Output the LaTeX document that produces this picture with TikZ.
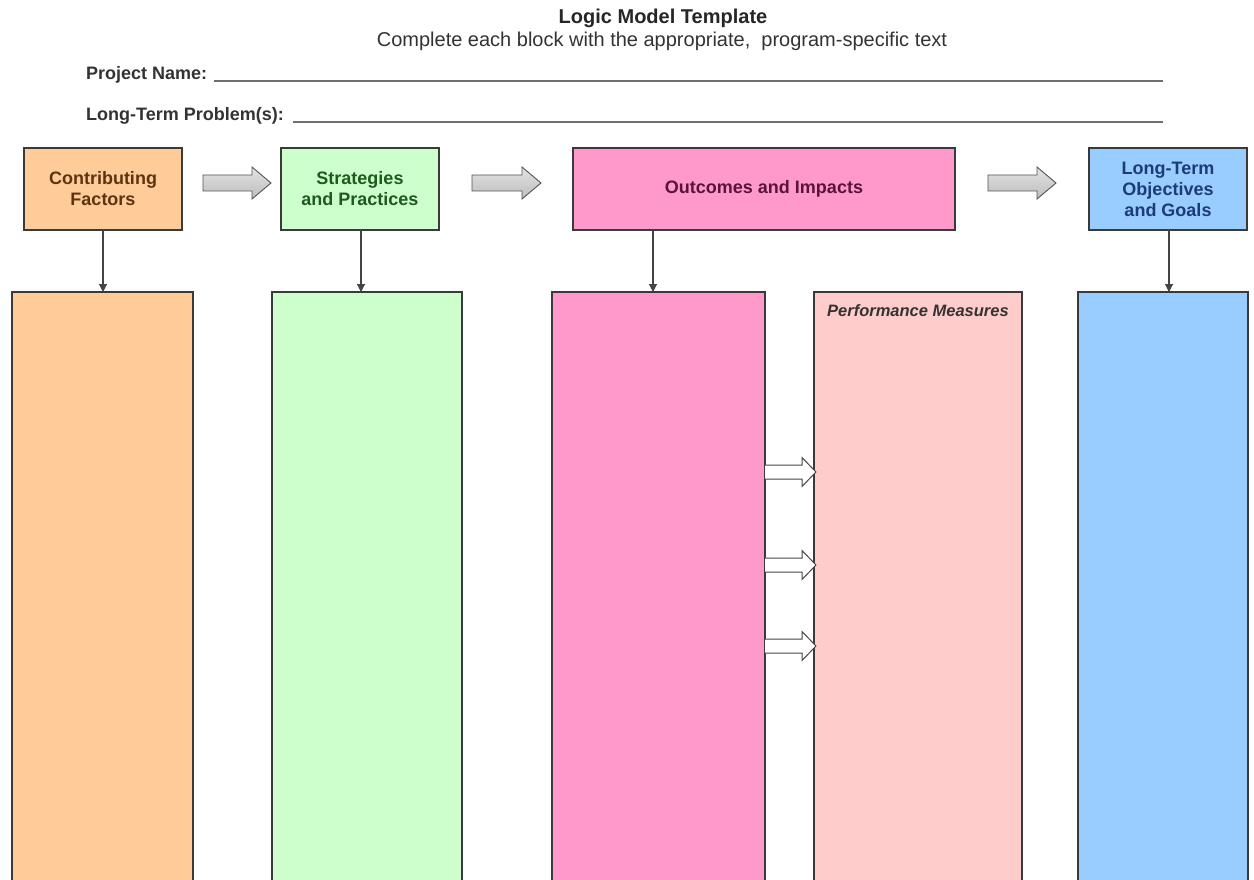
\documentclass[tikz,border=0pt]{standalone}
\usepackage{fontspec}
\setmainfont{Liberation Sans}
\usetikzlibrary{arrows.meta,calc}
\definecolor{cfFill}{HTML}{FFCC99}
\definecolor{spFill}{HTML}{CCFFCC}
\definecolor{oiFill}{HTML}{FF99CC}
\definecolor{pmFill}{HTML}{FFCCCC}
\definecolor{ltFill}{HTML}{99CCFF}
\definecolor{cfText}{HTML}{5C3410}
\definecolor{spText}{HTML}{1E5A1E}
\definecolor{oiText}{HTML}{5A1438}
\definecolor{ltText}{HTML}{1C3C78}
\definecolor{darkText}{HTML}{333333}
\definecolor{boxline}{HTML}{3A3A3A}
\definecolor{arrowgray}{HTML}{444444}
\definecolor{blankgray}{HTML}{6E6E6E}
\newcommand\blockarr[3]{%
  \draw[blockarrow] (#1,#3-8) -- (#2-19,#3-8) -- (#2-19,#3-16) -- (#2,#3)
    -- (#2-19,#3+16) -- (#2-19,#3+8) -- (#1,#3+8) -- cycle;}
\newcommand\hollowarr[3]{%
  \fill[white] (#1,#3-7) -- (#2-14,#3-7) -- (#2-14,#3-14.5) -- (#2,#3)
    -- (#2-14,#3+14.5) -- (#2-14,#3+7) -- (#1,#3+7) -- cycle;
  \draw[hollowarrow] (#1,#3-7) -- (#2-14,#3-7) -- (#2-14,#3-14.5) -- (#2,#3)
    -- (#2-14,#3+14.5) -- (#2-14,#3+7) -- (#1,#3+7);}
\begin{document}
\begin{tikzpicture}[x=1pt,y=-1pt,
  topbox/.style={draw=boxline, line width=1.2pt, minimum height=82pt, inner sep=2pt,
    outer sep=0pt, align=center, font=\fontsize{18}{21}\selectfont\bfseries},
  tallbox/.style={draw=boxline, line width=1.1pt, anchor=north, minimum height=640pt,
    outer sep=0pt, inner sep=0pt},
  downarrow/.style={draw=arrowgray, line width=1.1pt, -{Triangle[width=8pt,length=8pt]}},
  blockarrow/.style={draw=gray!65!black, line width=0.9pt, top color=gray!22, bottom color=gray!52},
  hollowarrow/.style={draw=gray!55!black, line width=1pt},
  blankline/.style={draw=blankgray, line width=1.8pt},
  formlabel/.style={anchor=base west, font=\fontsize{18}{21}\selectfont\bfseries, text=darkText, inner sep=0pt}]

\useasboundingbox (0,0) rectangle (1254,880);
\clip (0,0) rectangle (1254,880);
\fill[white] (0,0) rectangle (1254,880);

% header
\node[font=\fontsize{20}{24}\selectfont\bfseries, text=black!85] (title) at (663,18) {Logic Model Template};
\node[font=\fontsize{20}{24}\selectfont, text=black!80] (sub) at (662,41) {Complete each block with the appropriate,\ \ program-specific text};

\node[formlabel] (pn) at (86,80) {Project Name:};
\coordinate (pnEnd) at (1163,81);
\draw[blankline] ([xshift=7pt,yshift=-1pt]pn.base east) -- (pnEnd);

\node[formlabel] (lp) at (86,121) {Long-Term Problem(s):};
\coordinate (lpEnd) at (1163,122);
\draw[blankline] ([xshift=9pt,yshift=-1pt]lp.base east) -- (lpEnd);

% top boxes
\node[topbox, fill=cfFill, text=cfText, minimum width=158pt] (cf) at (103,189) {Contributing\\Factors};
\node[topbox, fill=spFill, text=spText, minimum width=158pt] (sp) at (360,189) {Strategies\\and Practices};
\node[topbox, fill=oiFill, text=oiText, minimum width=382pt] (oi) at (764,189) {Outcomes and Impacts};
\node[topbox, fill=ltFill, text=ltText, minimum width=158pt] (lt) at (1168,189) {Long-Term\\Objectives\\and Goals};

% block arrows between top boxes
\blockarr{203}{271}{183}
\blockarr{472}{541}{183}
\blockarr{988}{1056}{183}

% tall boxes
\node[tallbox, fill=cfFill, minimum width=181pt] (t1) at (102.5,292) {};
\node[tallbox, fill=spFill, minimum width=190pt] (t2) at (367,292) {};
\node[tallbox, fill=oiFill, minimum width=213pt] (t3) at (658.5,292) {};
\node[tallbox, fill=pmFill, minimum width=208pt] (t4) at (918,292) {};
\node[tallbox, fill=ltFill, minimum width=170pt] (t5) at (1163,292) {};

\node[font=\fontsize{16.5}{20}\selectfont\bfseries\itshape, text=darkText] (pm) at ($(t4.north)+(0,19)$) {Performance Measures};

% down arrows
\draw[downarrow] (cf.south) -- (cf.south |- t1.north);
\draw[downarrow] ([xshift=1pt]sp.south) -- ([xshift=1pt]sp.south |- t2.north);
\draw[downarrow] ([xshift=80pt]oi.south west) -- ([xshift=80pt]oi.south west |- t3.north);
\draw[downarrow] ([xshift=1pt]lt.south) -- ([xshift=1pt]lt.south |- t5.north);

% hollow arrows from outcomes to performance measures
\hollowarr{765}{816}{472}
\hollowarr{765}{816}{565}
\hollowarr{765}{816}{646}
\end{tikzpicture}
\end{document}
